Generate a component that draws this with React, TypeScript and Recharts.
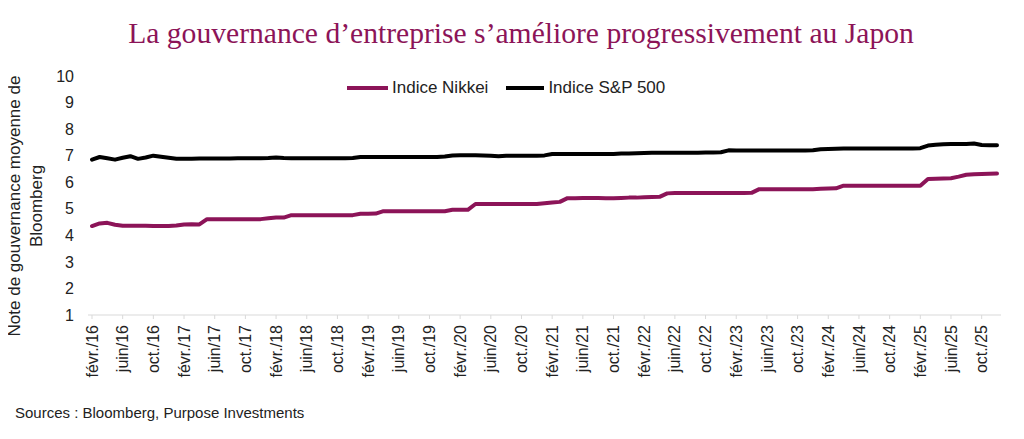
import { LineChart, Line, XAxis, YAxis } from "recharts";

const monthNames = ["janv.", "févr.", "mars", "avr.", "mai", "juin", "juil.", "août", "sept.", "oct.", "nov.", "déc."];

// one label per month, févr. 2016 -> déc. 2025
const months: string[] = [];
for (let y = 16; y <= 25; y++) {
  for (let m = 0; m < 12; m++) {
    if (y === 16 && m === 0) continue;
    months.push(`${monthNames[m]}/${y}`);
  }
}

const nikkei = [
  // 2016 (févr.-déc.)
  4.35, 4.45, 4.47, 4.40, 4.36, 4.36, 4.36, 4.36, 4.35, 4.35, 4.35,
  // 2017
  4.37, 4.41, 4.42, 4.41, 4.61, 4.61, 4.61, 4.61, 4.61, 4.61, 4.61, 4.61,
  // 2018
  4.64, 4.67, 4.67, 4.76, 4.76, 4.76, 4.76, 4.76, 4.76, 4.76, 4.76, 4.76,
  // 2019
  4.81, 4.81, 4.82, 4.91, 4.91, 4.91, 4.91, 4.91, 4.91, 4.91, 4.91, 4.91,
  // 2020
  4.96, 4.96, 4.96, 5.18, 5.18, 5.18, 5.18, 5.18, 5.18, 5.18, 5.18, 5.18,
  // 2021
  5.21, 5.24, 5.26, 5.40, 5.40, 5.41, 5.41, 5.41, 5.40, 5.40, 5.41, 5.42,
  // 2022
  5.42, 5.43, 5.44, 5.45, 5.58, 5.59, 5.59, 5.59, 5.59, 5.59, 5.59, 5.59,
  // 2023
  5.59, 5.59, 5.59, 5.60, 5.74, 5.74, 5.74, 5.74, 5.74, 5.74, 5.74, 5.74,
  // 2024
  5.75, 5.76, 5.77, 5.87, 5.87, 5.87, 5.87, 5.87, 5.87, 5.87, 5.87, 5.87,
  // 2025
  5.87, 5.87, 6.12, 6.13, 6.14, 6.15, 6.21, 6.28, 6.30, 6.31, 6.32, 6.33
];

const sp500 = [
  // 2016 (févr.-déc.)
  6.85, 6.95, 6.90, 6.85, 6.92, 6.98, 6.88, 6.93, 7.00, 6.96, 6.92,
  // 2017
  6.88, 6.88, 6.88, 6.89, 6.89, 6.89, 6.89, 6.89, 6.90, 6.90, 6.90, 6.90,
  // 2018
  6.91, 6.93, 6.91, 6.90, 6.90, 6.90, 6.90, 6.90, 6.90, 6.90, 6.90, 6.91,
  // 2019
  6.95, 6.95, 6.95, 6.95, 6.95, 6.95, 6.95, 6.95, 6.95, 6.95, 6.95, 6.97,
  // 2020
  7.01, 7.02, 7.02, 7.02, 7.01, 7.00, 6.98, 7.00, 7.00, 7.00, 7.00, 7.00,
  // 2021
  7.01, 7.06, 7.06, 7.06, 7.06, 7.06, 7.06, 7.06, 7.06, 7.06, 7.08, 7.08,
  // 2022
  7.09, 7.10, 7.11, 7.11, 7.11, 7.11, 7.11, 7.11, 7.11, 7.12, 7.12, 7.13,
  // 2023
  7.20, 7.19, 7.19, 7.19, 7.19, 7.19, 7.19, 7.19, 7.19, 7.19, 7.19, 7.20,
  // 2024
  7.24, 7.25, 7.26, 7.27, 7.27, 7.27, 7.27, 7.27, 7.27, 7.27, 7.27, 7.27,
  // 2025
  7.27, 7.28, 7.38, 7.41, 7.43, 7.44, 7.44, 7.44, 7.46, 7.40, 7.39, 7.39
];

const yTicks = [1, 2, 3, 4, 5, 6, 7, 8, 9, 10];

const data = months.map((label, i) => ({
  label,
  nikkei: nikkei[i],
  sp500: sp500[i]
}));

const PURPLE = "#8c1458";

function MonthTick(props: any) {
  const { x, y, payload } = props;
  return (
    <g transform={`translate(${x},${y})`}>
      <text
        transform="rotate(-90)"
        x={-4}
        y={0}
        dy="0.35em"
        textAnchor="end"
        fontSize={16}
        fill="#222"
        fontFamily="Liberation Sans, Arial, sans-serif"
      >
        {payload.value}
      </text>
    </g>
  );
}

export default function App() {
  return (
    <div
      style={{
        position: "relative",
        width: 1008,
        height: 423,
        fontFamily: "Liberation Sans, Arial, sans-serif",
        background: "#fff"
      }}
    >
      <div
        style={{
          position: "absolute",
          top: 8,
          left: 513,
          transform: "translateX(-50%)",
          whiteSpace: "nowrap",
          fontFamily: "Liberation Serif, Times New Roman, serif",
          fontSize: 29.6,
          lineHeight: "34px",
          color: PURPLE
        }}
      >
        La gouvernance d’entreprise s’améliore progressivement au Japon
      </div>

      <div
        style={{
          position: "absolute",
          top: 70,
          left: 339,
          height: 20,
          display: "flex",
          alignItems: "center",
          fontSize: 17,
          color: "#222",
          whiteSpace: "nowrap"
        }}
      >
        <span style={{ display: "inline-block", width: 41, height: 4, background: PURPLE, marginRight: 4 }} />
        <span style={{ marginRight: 18 }}>Indice Nikkei</span>
        <span style={{ display: "inline-block", width: 38, height: 4, background: "#000", marginRight: 4 }} />
        <span>Indice S&amp;P 500</span>
      </div>

      <div
        style={{
          position: "absolute",
          left: 18,
          top: 198,
          width: 300,
          transform: "translate(-50%, -50%) rotate(-90deg)",
          textAlign: "center",
          fontSize: 17,
          lineHeight: "22px",
          color: "#222"
        }}
      >
        Note de gouvernance moyenne de
        <br />
        Bloomberg
      </div>

      <div style={{ position: "absolute", top: 0, left: 0 }}>
        <LineChart
          width={1008}
          height={423}
          data={data}
          margin={{ top: 68, right: 15, bottom: 36, left: 0 }}
        >
          <XAxis
            dataKey="label"
            interval={3}
            tick={<MonthTick />}
            tickLine={{ stroke: "#d9d9d9" }}
            tickSize={4}
            axisLine={{ stroke: "#d9d9d9" }}
            padding={{ left: 4, right: 4 }}
            height={80}
          />
          <YAxis
            type="number"
            domain={[1, 10]}
            ticks={yTicks}
            axisLine={false}
            tickLine={false}
            tickMargin={8}
            width={80}
            tick={{ fontSize: 16, fill: "#222" }}
          />
          <Line
            type="linear"
            dataKey="nikkei"
            stroke={PURPLE}
            strokeWidth={4}
            strokeLinejoin="round"
            strokeLinecap="round"
            dot={false}
            isAnimationActive={false}
          />
          <Line
            type="linear"
            dataKey="sp500"
            stroke="#000"
            strokeWidth={4}
            strokeLinejoin="round"
            strokeLinecap="round"
            dot={false}
            isAnimationActive={false}
          />
        </LineChart>
      </div>

      <div
        style={{
          position: "absolute",
          left: 7,
          top: 396,
          fontSize: 15,
          color: "#222",
          whiteSpace: "nowrap"
        }}
      >
        Sources : Bloomberg, Purpose Investments
      </div>
    </div>
  );
}
